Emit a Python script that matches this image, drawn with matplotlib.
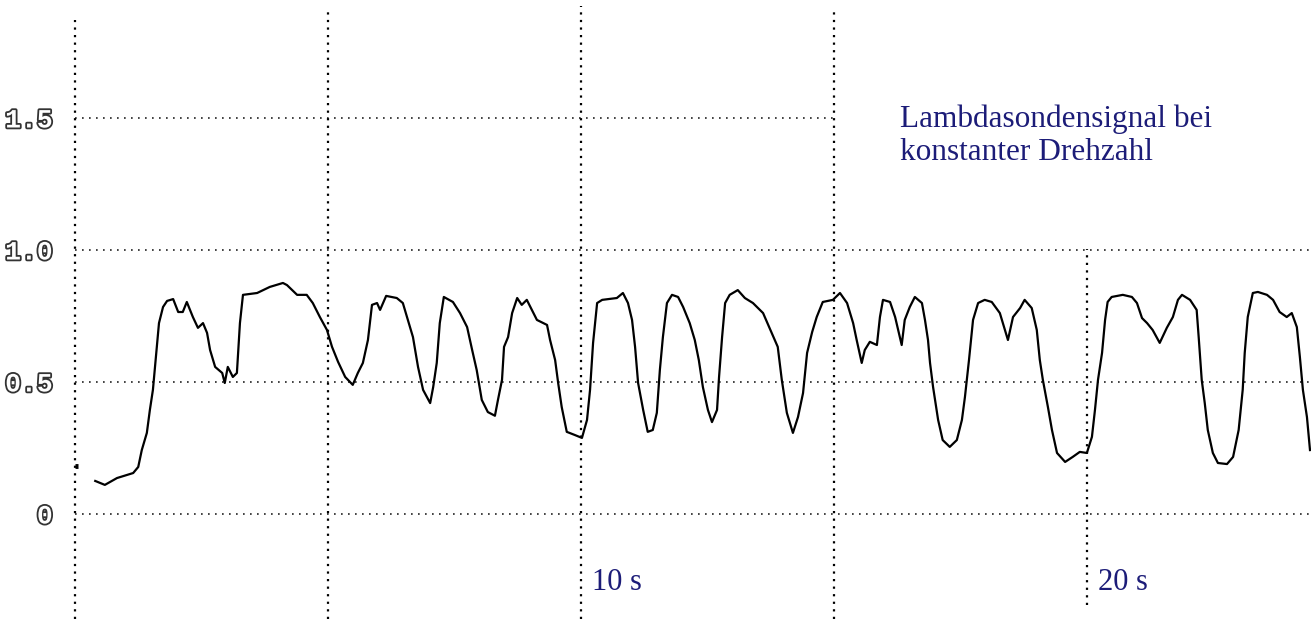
import numpy as np
import matplotlib
matplotlib.use("Agg")
import matplotlib.pyplot as plt
import matplotlib.patheffects as pe

start_t = [0.0, 0.06]
start_v = [0.18, 0.18]

t_s = [0.40, 0.59, 0.83, 1.15, 1.25, 1.32, 1.42, 1.48, 1.54, 1.60, 1.66, 1.74, 1.82, 1.94,
       2.04, 2.13, 2.21, 2.33, 2.43, 2.53, 2.61, 2.67, 2.77, 2.91, 2.96, 3.02, 3.12, 3.20,
       3.26, 3.32, 3.60, 3.85, 4.11, 4.19, 4.39, 4.58, 4.70, 4.84, 4.98, 5.08, 5.20, 5.34,
       5.49, 5.59, 5.69, 5.79, 5.87, 5.97, 6.03, 6.15, 6.36, 6.48, 6.58, 6.68, 6.78, 6.88,
       7.02, 7.08, 7.15, 7.21, 7.29, 7.47, 7.61, 7.75, 7.85, 7.94, 8.04, 8.16, 8.30, 8.36,
       8.44, 8.48, 8.56, 8.64, 8.74, 8.83, 8.93, 9.03, 9.13, 9.33, 9.39, 9.49, 9.55, 9.62,
       9.72, 9.88, 10.02, 10.12, 10.18, 10.24, 10.32, 10.42, 10.71, 10.83, 10.93, 11.01,
       11.07, 11.13, 11.23, 11.32, 11.42, 11.50, 11.56, 11.62, 11.70, 11.80, 11.92, 12.02,
       12.15, 12.25, 12.33, 12.41, 12.51, 12.59, 12.69, 12.73, 12.79, 12.85, 12.94, 13.10,
       13.24, 13.40, 13.60, 13.77, 13.89, 13.97, 14.07, 14.19, 14.29, 14.39, 14.47, 14.57,
       14.66, 14.78, 14.98, 15.12, 15.26, 15.38, 15.45, 15.55, 15.61, 15.71, 15.85, 15.91,
       15.97, 16.11, 16.21, 16.34, 16.40, 16.50, 16.60, 16.74, 16.80, 16.86, 16.90, 16.96,
       17.06, 17.15, 17.29, 17.43, 17.53, 17.59, 17.67, 17.75, 17.85, 17.98, 18.12, 18.28,
       18.38, 18.44, 18.54, 18.68, 18.77, 18.91, 19.01, 19.07, 19.13, 19.23, 19.31, 19.41,
       19.57, 19.72, 19.86, 20.00, 20.10, 20.16, 20.22, 20.30, 20.36, 20.41, 20.49, 20.71,
       20.89, 20.99, 21.09, 21.19, 21.30, 21.44, 21.58, 21.70, 21.80, 21.88, 22.04, 22.17,
       22.21, 22.27, 22.33, 22.39, 22.49, 22.59, 22.77, 22.89, 23.00, 23.08, 23.12, 23.18,
       23.28, 23.38, 23.56, 23.68, 23.81, 23.95, 24.05, 24.15, 24.21, 24.27, 24.35, 24.41]

u_v = [0.125, 0.11, 0.136, 0.155, 0.178, 0.242, 0.307, 0.394, 0.47, 0.595, 0.723, 0.784, 0.807, 0.814,
       0.765, 0.765, 0.803, 0.746, 0.705, 0.723, 0.686, 0.621, 0.557, 0.534, 0.496, 0.557, 0.519, 0.534,
       0.723, 0.83, 0.837, 0.86, 0.875, 0.867, 0.83, 0.83, 0.799, 0.746, 0.697, 0.633, 0.576, 0.519,
       0.489, 0.534, 0.572, 0.659, 0.792, 0.799, 0.773, 0.826, 0.818, 0.799, 0.735, 0.67, 0.557, 0.47,
       0.42, 0.481, 0.572, 0.723, 0.822, 0.803, 0.761, 0.708, 0.621, 0.545, 0.432, 0.386, 0.372, 0.432,
       0.508, 0.633, 0.67, 0.761, 0.818, 0.792, 0.811, 0.773, 0.735, 0.716, 0.659, 0.583, 0.496, 0.405,
       0.311, 0.299, 0.288, 0.356, 0.47, 0.648, 0.799, 0.811, 0.818, 0.837, 0.799, 0.735,
       0.633, 0.496, 0.394, 0.311, 0.318, 0.383, 0.545, 0.67, 0.799, 0.83, 0.822, 0.784,
       0.723, 0.659, 0.583, 0.481, 0.394, 0.348, 0.394, 0.519, 0.67, 0.799, 0.83, 0.848,
       0.818, 0.799, 0.761, 0.686, 0.633, 0.508, 0.383, 0.307, 0.367, 0.458, 0.61, 0.689,
       0.746, 0.803, 0.811, 0.837, 0.799, 0.723, 0.659, 0.572, 0.621, 0.652, 0.64, 0.746,
       0.811, 0.803, 0.746, 0.64, 0.735, 0.784, 0.822, 0.799, 0.735, 0.659, 0.572, 0.481,
       0.356, 0.28, 0.254, 0.28, 0.356, 0.443, 0.583, 0.735, 0.799, 0.811, 0.803, 0.761,
       0.697, 0.659, 0.746, 0.78, 0.811, 0.78, 0.697, 0.583, 0.508, 0.405, 0.318, 0.231,
       0.197, 0.216, 0.235, 0.231, 0.292, 0.394, 0.508, 0.61, 0.735, 0.803, 0.822, 0.83,
       0.822, 0.799, 0.742, 0.723, 0.697, 0.648, 0.705, 0.746, 0.811, 0.83, 0.811, 0.773,
       0.67, 0.508, 0.42, 0.318, 0.231, 0.193, 0.189, 0.216, 0.318, 0.47, 0.61, 0.746,
       0.837, 0.841, 0.83, 0.811, 0.765, 0.746, 0.761, 0.708, 0.595, 0.47, 0.367, 0.242]

y_ticks = [0, 0.5, 1.0, 1.5]
y_labels = ["0", "0.5", "1.0", "1.5"]
x_grid = [0, 5, 10, 15, 20]
time_marks = [10, 20]
time_labels = ["10 s", "20 s"]

fig = plt.figure(figsize=(13.11, 6.19), dpi=100)
ax = fig.add_axes([75 / 1311, 0, 1 - 75 / 1311, 1])
ax.set_xlim(0, 24.43)
ax.set_ylim(-0.398, 1.947)
for s in ax.spines.values():
    s.set_visible(False)

# Gitter wie auf dem Oszilloskop
h_extent = {0: 1.0, 0.5: 1.0, 1.0: 1.0, 1.5: 15 / 24.43}
for y in y_ticks:
    ax.axhline(y, xmin=0, xmax=h_extent[y], color="#222222", lw=1.2, ls=(0, (1, 3.2)), zorder=1)
v_extent = {0: (0.0, 0.968), 5: (0.0, 0.985), 10: (0.0, 0.99), 15: (0.0, 0.985), 20: (0.023, 0.598)}
for x in x_grid:
    lo, hi = v_extent[x]
    ax.axvline(x, ymin=lo, ymax=hi, color="black", lw=1.6, ls=(0, (1, 2.4)), zorder=1,
               clip_on=False)

ax.plot(start_t, start_v, color="black", lw=3.5, solid_capstyle="butt", zorder=3)
ax.plot(t_s, u_v, color="black", lw=1.6, zorder=3)

ax.set_xticks([])
ax.set_yticks(y_ticks)
ax.set_yticklabels(y_labels)
ax.tick_params(axis="y", length=0, pad=16)
for lab in ax.get_yticklabels():
    lab.set_fontfamily("Liberation Mono")
    lab.set_fontsize(19)
    lab.set_fontweight("bold")
    lab.set_color("white")
    lab.set_path_effects([pe.withStroke(linewidth=2.6, foreground="#333333")])

navy = "#1c1c78"
for t, lab in zip(time_marks, time_labels):
    ax.text(t + 0.22, -0.288, lab, color=navy, fontsize=22, family="Liberation Serif",
            ha="left", va="baseline")

ax.text(16.3, 1.466, "Lambdasondensignal bei", color=navy, fontsize=22.5,
        family="Liberation Serif", ha="left", va="baseline")
ax.text(16.3, 1.341, "konstanter Drehzahl", color=navy, fontsize=22.5,
        family="Liberation Serif", ha="left", va="baseline")

fig.savefig("out.png", dpi=100)
